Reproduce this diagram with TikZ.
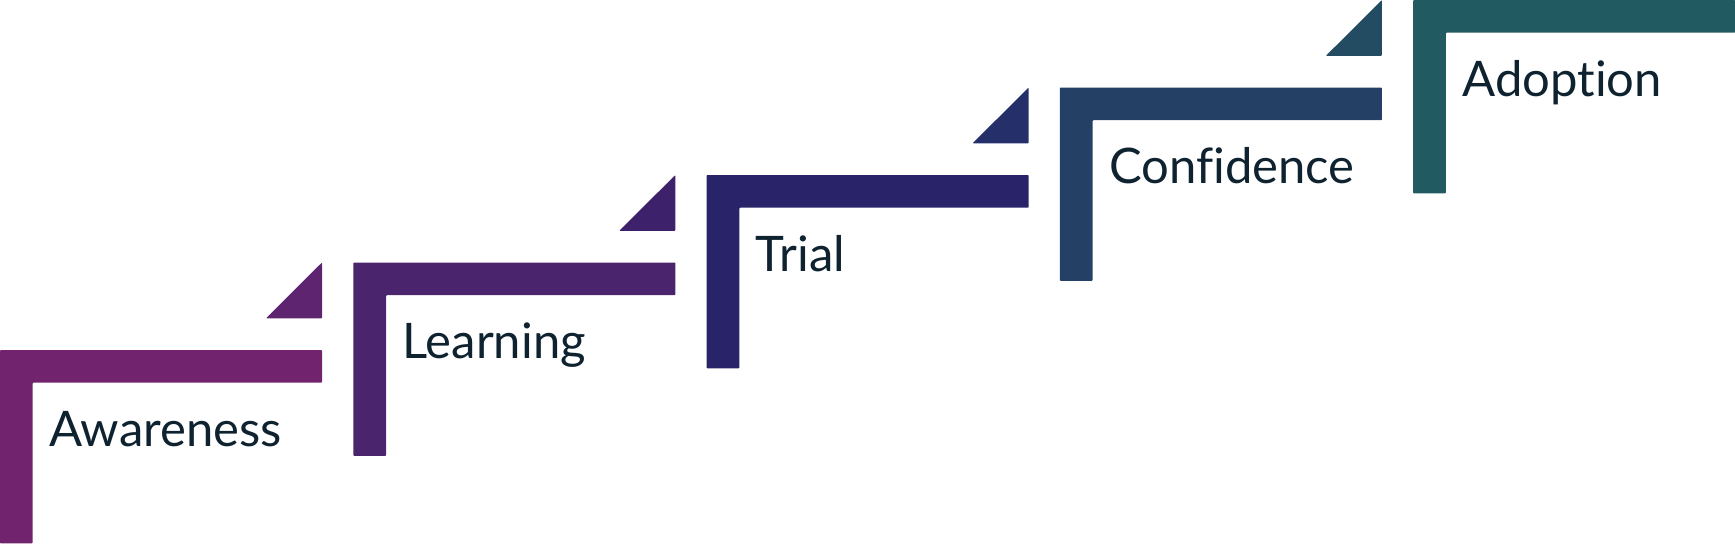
\documentclass[tikz,border=0pt]{standalone}
\usepackage{fontspec}
\setmainfont{Lato}[Ligatures=NoCommon]
\definecolor{cA}{HTML}{72236D}
\definecolor{cB}{HTML}{4A246C}
\definecolor{cC}{HTML}{29246A}
\definecolor{cD}{HTML}{244064}
\definecolor{cE}{HTML}{225A61}
\definecolor{tA}{HTML}{5F2470}
\definecolor{tB}{HTML}{3D226B}
\definecolor{tC}{HTML}{252F69}
\definecolor{tD}{HTML}{234C62}
\definecolor{txt}{HTML}{0F2230}
\tikzset{
  stepshape/.style={fill=#1, draw=none, rounded corners=0.8pt},
  steplabel/.style={anchor=base west, inner sep=0pt, text=txt, font=\fontsize{49}{57}\selectfont}
}
\begin{document}
\begin{tikzpicture}[x=1pt,y=-1pt]
\useasboundingbox (0,0) rectangle (1735,544);
\foreach \i/\c/\t/\lab/\nm in {0/cA/tA/Awareness/s0,1/cB/tB/Learning/s1,2/cC/tC/Trial/s2,3/cD/tD/Confidence/s3,4/cE/none/Adoption/s4}{
  \pgfmathsetmacro{\xo}{353.3*\i}
  \pgfmathsetmacro{\yo}{350-87.5*\i}
  \fill[stepshape=\c] (\xo,\yo+193.3) -- (\xo,\yo) -- (\xo+322,\yo) -- (\xo+322,\yo+32.7) -- (\xo+32.7,\yo+32.7) -- (\xo+32.7,\yo+193.3) -- cycle;
  \ifnum\i<4
    \fill[stepshape=\t] (\xo+322,\yo-87.5) -- (\xo+322,\yo-31.7) -- (\xo+266,\yo-31.7) -- cycle;
  \fi
  \node[steplabel] (\nm) at (\xo+49,\yo+96) {\lab};
}
\end{tikzpicture}
\end{document}
